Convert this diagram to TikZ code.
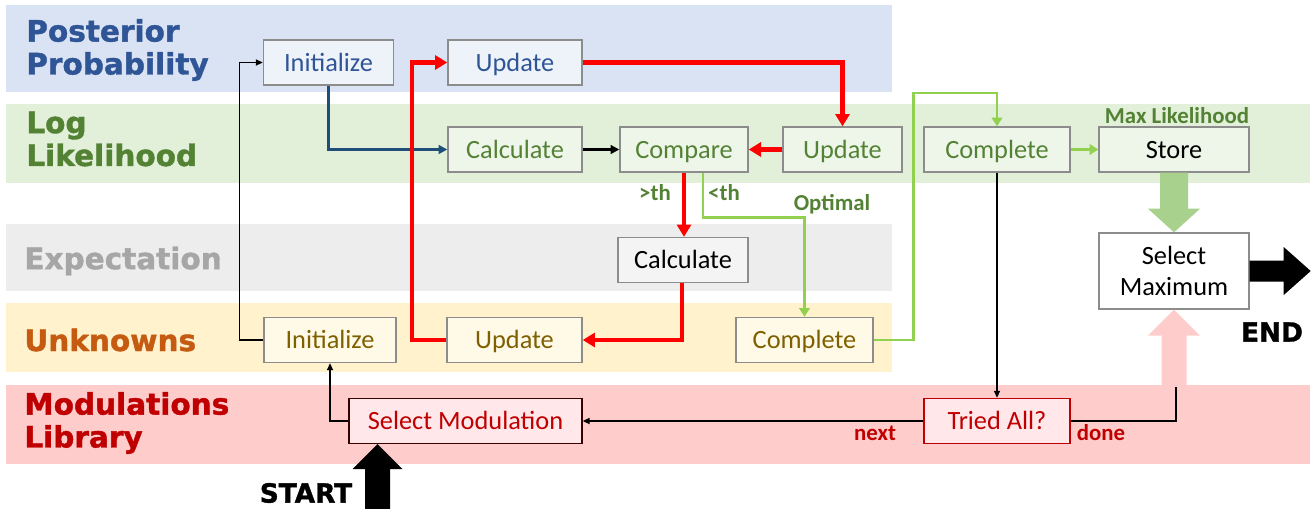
\documentclass[tikz,border=0pt]{standalone}
\usepackage{fontspec}
\setmainfont{Carlito}
\newfontfamily\bandfont{DejaVu Sans}[BoldFeatures={FakeBold=1.3}]
\usepackage{tikz}
\usetikzlibrary{
  arrows.meta,
  positioning,
  calc,
}
\definecolor{postBand}{HTML}{DAE3F3}
\definecolor{logBand}{HTML}{E2F0D9}
\definecolor{expBand}{HTML}{EDEDED}
\definecolor{unkBand}{HTML}{FFF2CC}
\definecolor{modBand}{HTML}{FFCCCC}
\definecolor{postFill}{HTML}{EEF3FA}
\definecolor{logFill}{HTML}{EEF6EA}
\definecolor{expFill}{HTML}{F4F4F4}
\definecolor{unkFill}{HTML}{FFF9E7}
\definecolor{modFill}{HTML}{FFE7EA}
\definecolor{postText}{HTML}{2F5597}
\definecolor{logText}{HTML}{548235}
\definecolor{expText}{HTML}{A6A6A6}
\definecolor{unkLabel}{HTML}{C55A11}
\definecolor{unkText}{HTML}{7F6000}
\definecolor{modText}{HTML}{C00000}
\definecolor{boxGray}{HTML}{8C8C8C}
\definecolor{flowRed}{HTML}{FF0000}
\definecolor{flowGreen}{HTML}{92D050}
\definecolor{flowBlue}{HTML}{1F4E79}
\definecolor{storeGreen}{HTML}{A9D18E}

\begin{document}
\begin{tikzpicture}[x=0.02cm, y=-0.02cm,
  boxbase/.style={draw=boxGray, line width=0.8pt, inner sep=0pt,
    minimum height=0.9cm, font=\fontsize{15}{18}\selectfont},
  stepbox/.style={boxbase, text height=9.8pt, text depth=0pt},
  postbox/.style={stepbox, fill=postFill, text=postText},
  logbox/.style={stepbox, fill=logFill, text=logText},
  expbox/.style={stepbox, fill=expFill, text=black},
  unkbox/.style={stepbox, fill=unkFill, text=unkText},
  modbox/.style={stepbox, fill=modFill, text=modText},
  bandlabel/.style={anchor=west, align=left, inner sep=0pt,
    font=\bandfont\bfseries\fontsize{16.8}{18.7}\selectfont},
  tag/.style={inner sep=0pt, font=\bfseries\fontsize{13}{15}\selectfont},
  redflow/.style={draw=flowRed, line width=2.3pt, -{Triangle[length=7pt,width=8pt]}},
  greenflow/.style={draw=flowGreen, line width=1.6pt, -{Triangle[length=5pt,width=6pt]}},
  blueflow/.style={draw=flowBlue, line width=1.3pt, -{Triangle[length=5pt,width=5pt]}},
  thinflow/.style={draw=black, line width=0.7pt, -{Triangle[length=4pt,width=3.5pt]}},
]
  \useasboundingbox (0,0) rectangle (1314,508);

  % bands
  \fill[postBand] (6,5) rectangle (892,92);
  \fill[logBand] (6,104) rectangle (1310,183);
  \fill[expBand] (6,224) rectangle (892,291);
  \fill[unkBand] (6,303) rectangle (892,372);
  \fill[modBand] (6,385) rectangle (1310,464);

  \node[bandlabel, text=postText] (postLabel) at (26,50) {Posterior\\Probability};
  \node[bandlabel, text=logText] (logLabel) at (26,139) {Log\\Likelihood};
  \node[bandlabel, text=expText] (expLabel) at (24,261) {Expectation};
  \node[bandlabel, text=unkLabel] (unkLabel) at (24,340) {Unknowns};
  \node[bandlabel, text=modText] (modLabel) at (24,423) {Modulations\\Library};

  % steps
  \node[postbox, minimum width=2.6cm] (piInit) at (328.5,62.5) {Initialize};
  \node[postbox, minimum width=2.68cm] (puUpd) at (515,62.5) {Update};
  \node[logbox, minimum width=2.68cm] (lcCalc) at (515,149.5) {Calculate};
  \node[logbox, minimum width=2.56cm] (lcComp) at (684,149.5) {Compare};
  \node[logbox, minimum width=2.38cm] (luUpd) at (842.5,149.5) {Update};
  \node[logbox, minimum width=2.92cm] (lComplete) at (997,149.5) {Complete};
  \node[logbox, minimum width=3cm, text=black] (lStore) at (1174,149.5) {Store};
  \node[expbox, minimum width=2.6cm] (eCalc) at (683,260) {Calculate};
  \node[boxbase, fill=white, align=center, minimum width=3cm,
        minimum height=1.52cm] (selMax) at (1174,271) {Select\\Maximum};
  \node[unkbox, minimum width=2.64cm] (uInit) at (330,340) {Initialize};
  \node[unkbox, minimum width=2.7cm] (uUpd) at (514.5,340) {Update};
  \node[unkbox, minimum width=2.74cm] (uComplete) at (804.5,340) {Complete};
  \node[modbox, draw=black!70!modText, minimum width=4.66cm] (mSelect) at (465.5,421) {Select Modulation};
  \node[modbox, draw=modText, minimum width=2.92cm] (mTried) at (997,421) {Tried All?};

  % block arrows
  \fill[storeGreen] ($(lStore.south)+(-14,0)$) -- ($(lStore.south)+(14,0)$)
    -- ($(lStore.south)+(14,36)$) -- ($(lStore.south)+(26,36)$) -- (selMax.north)
    -- ($(lStore.south)+(-26,36)$) -- ($(lStore.south)+(-14,36)$) -- cycle;
  \fill[modBand] (selMax.south) -- ++(26,26) -- ++(-13.5,0) -- ++(0,56)
    -- ++(-25,0) -- ++(0,-56) -- ++(-13.5,0) -- cycle;
  \coordinate (startTip) at ($(mSelect.south)+(-88,0)$);
  \fill[black] (startTip) -- ++(25,25) -- ++(-12.5,0) -- ++(0,42)
    -- ++(-25,0) -- ++(0,-42) -- ++(-12.5,0) -- cycle;
  \fill[black] ($(selMax.east)+(0,-10.5)$) -- ++(34,0) -- ++(0,-13.5)
    -- ($(selMax.east)+(61,0)$) -- ($(selMax.east)+(34,24)$) -- ++(0,-13.5)
    -- ($(selMax.east)+(0,10.5)$) -- cycle;
  \node[font=\bandfont\bfseries\fontsize{15}{18}\selectfont, inner sep=0pt] (startLabel) at (306,493) {START};
  \node[font=\bandfont\bfseries\fontsize{15}{18}\selectfont, inner sep=0pt] (endLabel) at (1272,332) {END};

  % flow
  \draw[thinflow] (uInit.west) -- ++(-24,0) |- (piInit.west);
  \draw[thinflow] (mSelect.west) -| (uInit.south);
  \draw[blueflow] (piInit.south) |- (lcCalc.west);
  \draw[draw=black, line width=1.3pt, -{Triangle[length=5pt,width=5pt]}] (lcCalc) -- (lcComp);
  \draw[redflow] (puUpd.east) -| (luUpd.north);
  \draw[redflow] (luUpd) -- (lcComp);
  \draw[redflow] (lcComp.south) -- (lcComp.south |- eCalc.north);
  \draw[redflow] ($(eCalc.south)+(-1,0)$) |- (uUpd.east);
  \draw[redflow] (uUpd.west) -- ++(-34,0) |- (puUpd.west);
  \draw[greenflow] ($(lcComp.south)+(19,0)$) -- ++(0,45) -| (uComplete.north);
  \draw[greenflow] (uComplete.east) -- ++(40,0) -- ++(0,-247) -| (lComplete.north);
  \draw[greenflow] (lComplete) -- (lStore);
  \draw[thinflow] (lComplete) -- (mTried);
  \draw[thinflow] (mTried) -- (mSelect);
  \coordinate (doneEnd) at (1176,387);
  \draw[draw=black, line width=0.7pt] (mTried.east) -| (doneEnd);

  % branch tags
  \node[tag, text=logText] (gtTag) at (655,193) {>th};
  \node[tag, text=logText] (ltTag) at (724,193) {<th};
  \node[tag, text=logText] (optTag) at (832,204) {Optimal};
  \node[tag, text=logText] (maxTag) at (1177,116) {Max Likelihood};
  \node[tag, text=modText] (nextTag) at (875,433) {next};
  \node[tag, text=modText] (doneTag) at (1101,433) {done};
\end{tikzpicture}
\end{document}
